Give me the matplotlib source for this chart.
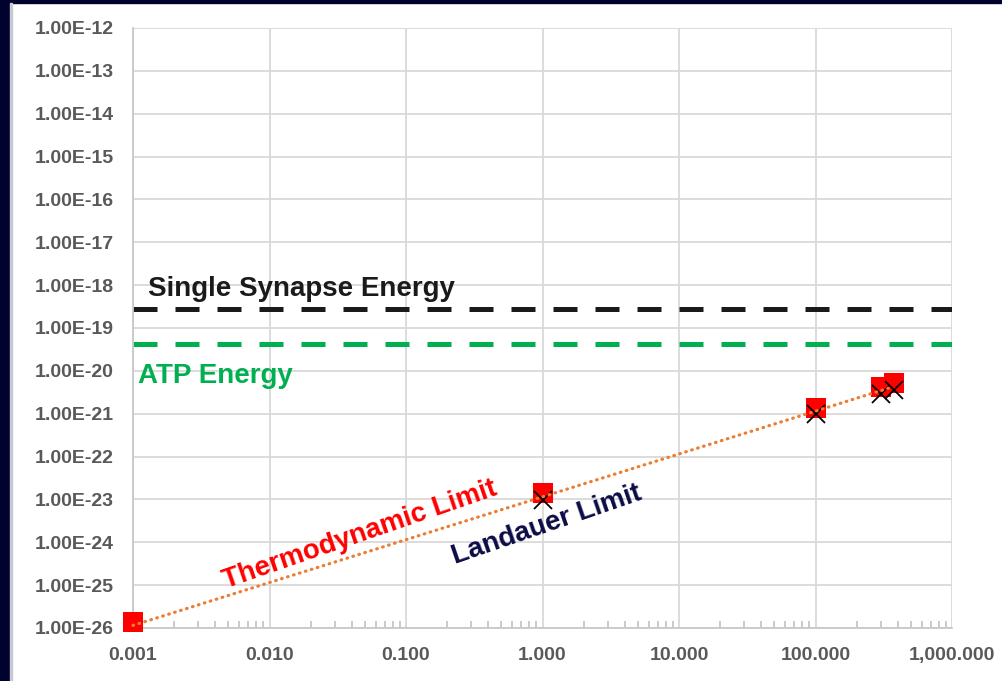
import numpy as np
import matplotlib
matplotlib.use("Agg")
import matplotlib.pyplot as plt
from matplotlib.patches import Rectangle

# temperature (K) and energies (J)
temp_thermo = [0.001, 1, 100, 300, 373]
e_thermo = [1.38e-26, 1.38e-23, 1.38e-21, 4.1e-21, 5.1e-21]
temp_landauer = [1, 100, 300, 373]
e_landauer = [9.6e-24, 9.6e-22, 2.9e-21, 3.6e-21]

synapse_energy = 2.75e-19
atp_energy = 4.25e-20

x_ticks = [0.001, 0.01, 0.1, 1, 10, 100, 1000]
x_tick_labels = ["0.001", "0.010", "0.100", "1.000", "10.000", "100.000", "1,000.000"]
y_ticks = [1e-26, 1e-25, 1e-24, 1e-23, 1e-22, 1e-21, 1e-20, 1e-19,
           1e-18, 1e-17, 1e-16, 1e-15, 1e-14, 1e-13, 1e-12]
y_tick_labels = ["1.00E-26", "1.00E-25", "1.00E-24", "1.00E-23", "1.00E-22",
                 "1.00E-21", "1.00E-20", "1.00E-19", "1.00E-18", "1.00E-17",
                 "1.00E-16", "1.00E-15", "1.00E-14", "1.00E-13", "1.00E-12"]

plt.rcParams['font.family'] = ['Liberation Sans', 'DejaVu Sans']

fig = plt.figure(figsize=(10.02, 6.81), dpi=100)
fig.patch.set_facecolor("white")
ax = fig.add_axes([133 / 1002, 1 - 628 / 681, 819 / 1002, 600 / 681])

# dark frame strips
fig.patches.append(Rectangle((0, 0), 10 / 1002, 1, transform=fig.transFigure,
                             color="#02022e", zorder=-5))
fig.patches.append(Rectangle((0, 1 - 3 / 681), 1, 3 / 681, transform=fig.transFigure,
                             color="#02022e", zorder=-5))
fig.patches.append(Rectangle((10 / 1002, 0), 1.5 / 1002, 1 - 3 / 681, transform=fig.transFigure,
                             color="#c9c9d6", zorder=-5))

ax.set_xscale("log")
ax.set_yscale("log")
ax.set_xlim(0.001, 1000)
ax.set_ylim(1e-26, 1e-12)

ax.grid(True, which="major", color="#d9d9d9", linewidth=1.3)
ax.set_axisbelow(True)
for s in ["top", "right"]:
    ax.spines[s].set_visible(False)
for s in ["left", "bottom"]:
    ax.spines[s].set_color("#c8c8c8")
    ax.spines[s].set_linewidth(1.3)

ax.set_xticks(x_ticks)
ax.set_xticklabels(x_tick_labels)
ax.set_yticks(y_ticks)
ax.set_yticklabels(y_tick_labels)
ax.yaxis.set_minor_locator(matplotlib.ticker.NullLocator())
ax.tick_params(axis="both", which="major", length=0, pad=14, labelsize=14,
               labelcolor="#595959")
ax.tick_params(axis="x", which="minor", direction="in", length=5, width=1.2,
               color="#c0c0c0")
ax.xaxis.set_minor_formatter(matplotlib.ticker.NullFormatter())
for lab in ax.get_xticklabels() + ax.get_yticklabels():
    lab.set_fontweight("bold")

ax.axhline(synapse_energy, color="#1a1a1a", linewidth=3.6, dashes=(4.8, 3.6))
ax.axhline(atp_energy, color="#00b050", linewidth=3.6, dashes=(4.8, 3.6))

ax.plot(temp_thermo, e_thermo, "s", color="#ff0000", markersize=15, markeredgewidth=0,
        zorder=3, clip_on=False)
ax.plot(temp_landauer, e_landauer, "x", color="black", markersize=13, markeredgewidth=1.3,
        zorder=4, clip_on=False)

# power trendline through both series
all_t = np.array(temp_thermo + temp_landauer + [0.001])
all_e = np.array(e_thermo + e_landauer + [9.6e-27])
p = np.polyfit(np.log10(all_t), np.log10(all_e), 1)
tx = np.array([min(temp_thermo), max(temp_thermo)])
ax.plot(tx, 10 ** np.polyval(p, np.log10(tx)), color="#ed7d31", linewidth=2.3,
        dashes=(0.2, 1.75), dash_capstyle="round", zorder=5, clip_on=False)

ax.text(0.018, 0.553, "Single Synapse Energy", transform=ax.transAxes, fontsize=20,
        fontweight="bold", color="#1a1a1a", ha="left", va="baseline")
ax.text(0.006, 0.408, "ATP Energy", transform=ax.transAxes, fontsize=20,
        fontweight="bold", color="#00b050", ha="left", va="baseline")
ax.text(0.277, 0.155, "Thermodynamic Limit", transform=ax.transAxes, fontsize=20,
        fontweight="bold", color="#ff0000", ha="center", va="center",
        rotation=19, rotation_mode="anchor")
ax.text(0.505, 0.171, "Landauer Limit", transform=ax.transAxes, fontsize=20,
        fontweight="bold", color="#0b0b45", ha="center", va="center",
        rotation=19, rotation_mode="anchor")

fig.savefig("out.png", dpi=100)
